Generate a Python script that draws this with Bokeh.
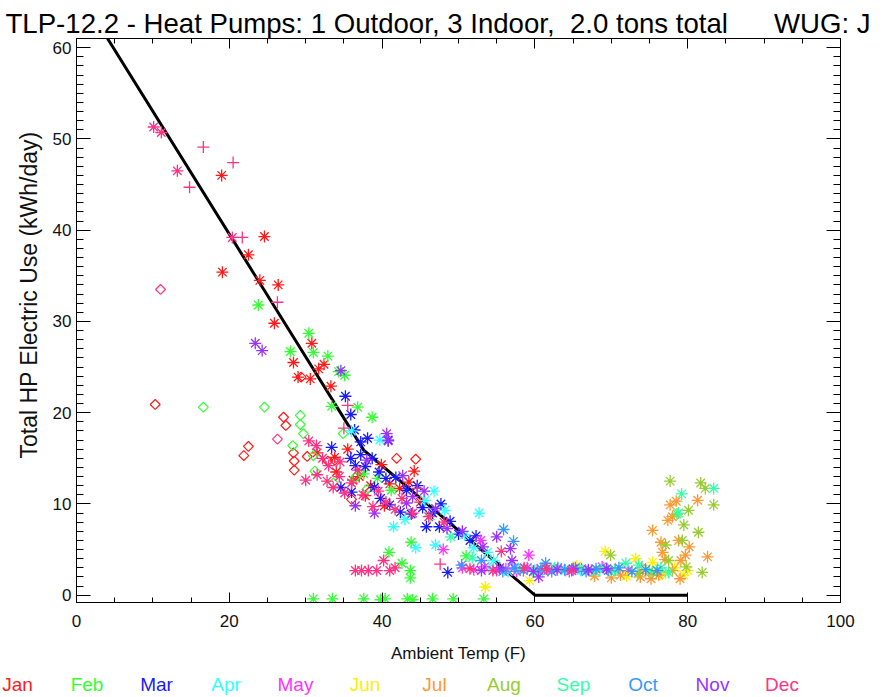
import numpy as np
from bokeh.plotting import figure
from bokeh.layouts import column
from bokeh.models import Range1d, LinearAxis, SingleIntervalTicker, Title, CustomJSTickFormatter, Div
from bokeh.embed import file_html
from bokeh.resources import INLINE

months = ["Jan", "Feb", "Mar", "Apr", "May", "Jun", "Jul", "Aug", "Sep", "Oct", "Nov", "Dec"]
month_colors = ["#ff1a1a", "#33ff33", "#1a1aff", "#33ffff", "#ff33ff", "#ffee00",
                "#ff9933", "#99cc33", "#33ffaa", "#3399ff", "#9933ff", "#ff3385"]

jan_star = [(19.0,46.0),(19.1,35.4),(24.6,39.3),(22.5,37.3),(24.0,34.5),(26.4,34.0),(25.9,29.8),(30.8,27.6),
            (28.4,25.5),(29.0,23.9),(30.6,23.7),(31.7,24.8),(32.4,25.3),(33.3,22.9),(33.8,15.1),(35.5,16.0),
            (31.5,15.6),(37.0,13.0),(38.5,12.0),(39.9,14.3),(41.0,12.2),(42.3,11.7),(43.5,12.4),(45.0,10.2),
            (36.2,12.6),(34.0,13.5),(40.3,9.8),(44.2,13.6),(37.8,10.9)]
jan_diamond = [(10.3,20.9),(22.5,16.3),(21.9,15.3),(27.1,19.5),(27.4,18.6),(28.4,15.6),(28.5,14.7),(28.5,13.7),
               (29.4,23.9),(32.9,14.7),(33.8,14.8),(41.9,15.0),(44.4,14.9),(30.2,15.2),(36.0,10.5)]

feb_star = [(23.8,31.8),(30.4,28.7),(28.0,26.7),(31.0,26.6),(32.9,26.2),(34.3,24.5),(35.1,24.1),(33.4,20.7),
            (36.8,20.6),(38.7,19.5),(37.6,13.3),(39.4,12.8),(41.2,11.5),(43.8,5.8),(40.9,4.7),(42.6,3.5),
            (43.7,2.7),(43.7,1.9),(51.0,4.3),(46.3,8.7),(31.0,-0.4),(33.5,-0.4),(37.6,-0.4),(39.8,-0.5),
            (40.4,-0.4),(43.3,-0.4),(44.0,-0.5),(46.6,-0.4),(49.3,-0.4),(53.3,-0.4)]
feb_diamond = [(16.6,20.6),(24.6,20.6),(29.3,19.7),(29.3,18.7),(29.7,17.7),(28.3,16.4),(31.0,15.3),(31.2,13.6),
               (34.9,17.7),(36.5,12.9),(33.6,12.3),(38.0,11.6)]

mar_star = [(35.2,21.8),(35.9,19.8),(36.4,18.1),(33.4,16.2),(35.9,15.0),(37.2,15.4),(36.5,14.2),(37.8,14.1),
            (38.7,15.0),(39.6,13.5),(37.2,16.8),(38.1,17.2),(40.5,12.8),(41.8,12.9),(43.2,11.5),(44.6,12.0),
            (39.8,10.6),(41.0,9.9),(42.4,9.1),(43.8,8.9),(45.3,9.6),(46.6,9.0),(47.5,7.5),(48.9,8.1),
            (50.0,6.7),(51.5,6.0),(52.3,6.5),(48.6,2.5),(47.7,10.0),(45.8,7.5),(34.6,11.8),(40.8,17.0),
            (39.0,11.8),(36.0,11.3)]

apr_star = [(39.7,17.0),(36.0,18.0),(41.5,7.5),(44.4,5.2),(46.8,11.4),(48.2,9.3),(50.8,6.6),(52.0,5.2),
            (53.8,4.7),(54.6,3.8),(57.8,2.9),(47.0,5.5),(43.0,8.3),(52.7,9.0),(54.0,3.0),(56.5,2.6),
            (59.5,2.9),(61.0,2.7),(63.4,2.9),(66.0,2.7),(68.5,2.8),(45.6,10.4)]

may_star = [(52.9,6.0),(59.2,4.4),(50.5,3.0),(52.0,2.8),(53.4,3.1),(55.0,2.7),(56.2,2.9),(57.6,2.6),
            (59.0,3.0),(60.3,2.8),(61.7,2.7),(63.0,3.0),(64.5,2.6),(66.1,2.9),(67.4,2.7),(68.8,3.1),
            (70.5,2.8),(72.2,2.7),(74.0,3.0),(48.0,5.0)]

jun_star = [(53.5,0.9),(59.3,1.6),(65.5,3.2),(70.0,2.5),(72.0,2.1),(73.2,4.0),(75.4,3.6),(77.1,2.4),
            (79.5,2.2),(74.2,2.9),(76.4,2.3),(78.3,3.0),(80.0,2.7),(69.2,4.8)]

jul_star = [(75.4,7.1),(77.4,8.2),(78.0,8.6),(78.8,6.0),(77.7,9.9),(78.5,10.3),(81.3,10.4),(76.7,4.7),
            (77.0,3.9),(78.0,2.7),(76.2,2.2),(75.2,1.8),(79.1,3.8),(79.7,4.4),(82.6,4.2),(71.2,2.2),
            (73.8,2.0),(70.0,1.9),(67.8,2.1),(79.0,1.8),(80.2,5.3),(76.5,5.8),(74.9,2.6)]

aug_star = [(77.7,12.5),(81.7,12.3),(82.3,11.7),(83.4,9.9),(79.5,7.7),(81.4,6.9),(79.3,6.0),(77.5,3.8),
            (75.4,2.5),(69.9,4.4),(81.9,2.5),(77.1,5.5),(78.6,8.9),(80.1,9.3),(73.5,2.4),(79.8,3.1)]

sep_star = [(79.2,11.1),(83.4,11.7),(78.8,9.0),(71.9,3.5),(73.6,3.3),(58.0,2.8),(60.0,2.6),(62.6,3.0),
            (64.0,2.7),(65.8,2.9),(67.9,2.6),(69.0,3.0),(70.4,2.7),(75.0,2.7),(76.5,3.0),(77.5,2.5),
            (49.0,6.4),(51.8,4.1)]

oct_star = [(57.2,5.9),(55.9,7.2),(55.8,2.6),(57.3,3.0),(58.5,2.7),(60.8,2.9),(61.4,3.5),(62.2,2.6),
            (63.9,2.8),(65.3,3.0),(66.7,2.6),(68.0,2.9),(69.6,2.7),(71.0,3.0),(72.7,2.6),(74.5,2.8),
            (76.0,2.7),(50.4,3.3),(53.0,3.8)]

nov_star = [(23.4,27.6),(24.3,26.8),(34.6,24.6),(40.6,17.7),(40.8,16.9),(38.0,14.8),(42.7,13.1),(44.0,10.8),
            (45.5,11.4),(43.2,10.1),(47.0,9.5),(48.5,7.3),(50.5,7.0),(53.2,5.3),(55.0,6.4),(56.8,5.1),
            (57.0,3.8),(36.5,9.8),(39.0,9.0),(53.0,2.7),(55.4,3.0),(59.8,2.6),(62.9,2.8),(65.0,2.9),
            (67.0,2.8),(69.4,2.9),(60.5,2.0)]

dec_star = [(10.1,51.3),(11.1,50.7),(13.2,46.5),(20.4,39.2),(30.4,16.9),(31.4,16.4),(30.0,12.6),(31.5,13.2),
            (32.8,12.5),(33.6,11.8),(34.4,13.0),(35.1,11.2),(36.0,12.3),(34.5,14.6),(33.0,14.2),(37.5,11.0),
            (38.8,9.7),(39.5,11.4),(40.5,10.2),(41.7,9.4),(42.6,10.6),(44.0,9.0),(46.1,8.6),(48.1,8.0),
            (36.8,13.7),(32.2,15.0),(36.5,2.7),(37.3,2.7),(38.2,2.7),(39.3,2.7),(40.2,3.8),(41.0,2.7),
            (41.7,3.0),(51.5,2.9),(54.5,2.7),(58.6,3.0),(61.5,2.9),(64.8,2.7),(55.6,4.8)]
dec_plus = [(16.6,49.1),(20.5,47.4),(14.8,44.7),(21.7,39.2),(26.3,32.1),(35.5,20.8),(35.0,18.3),(44.6,11.7),
            (47.6,3.4)]
dec_diamond = [(11.0,33.5),(26.3,17.1)]

fit_t = [4.06, 37.6, 60.0, 80.0]
fit_e = [61.0, 15.9, 0.0, 0.0]

NB = "\u00a0"
title_text = "TLP-12.2 - Heat Pumps: 1 Outdoor, 3 Indoor," + NB * 2 + "2.0 tons total" + NB * 6 + "WUG: J"
x_title = "Ambient Temp (F)"
y_title = "Total HP Electric Use (kWh/day)"

stars = [jan_star, feb_star, mar_star, apr_star, may_star, jun_star, jul_star, aug_star, sep_star,
         oct_star, nov_star, dec_star]
pluses = [[], [], [], [], [], [], [], [], [], [], [], dec_plus]
diamonds = [jan_diamond, feb_diamond, [], [], [], [], [], [], [], [], [], dec_diamond]

FONT = "Liberation Sans"
FW, FH = 764, 564
BL, BR, BT, BB = 76, 42, 38, 66
LEG_H = 29

p = figure(frame_width=FW, frame_height=FH, min_border_left=BL, min_border_right=BR,
           min_border_top=BT, min_border_bottom=BB, x_range=Range1d(0, 100), y_range=Range1d(-0.8, 61.0),
           output_backend="svg", toolbar_location=None, x_axis_location=None, y_axis_location=None)
p.grid.visible = False
p.outline_line_color = "black"
p.outline_line_width = 1
p.background_fill_color = "white"
p.border_fill_color = "white"

blank = CustomJSTickFormatter(code="return ''")

def make_axis(kind, show_labels):
    if kind == "x":
        ax = LinearAxis(ticker=SingleIntervalTicker(interval=20, num_minor_ticks=4))
        ax.major_tick_in, ax.minor_tick_in = 10, 5
    else:
        ax = LinearAxis(ticker=SingleIntervalTicker(interval=10, num_minor_ticks=10))
        ax.major_tick_in, ax.minor_tick_in = 14, 7
    ax.major_tick_out = 0
    ax.minor_tick_out = 0
    ax.axis_line_color = "black"
    ax.major_tick_line_color = "black"
    ax.minor_tick_line_color = "black"
    ax.major_label_text_font = FONT
    ax.major_label_text_color = "#111111"
    ax.axis_label_text_font = FONT
    ax.axis_label_text_font_style = "normal"
    ax.axis_label_text_color = "#111111"
    ax.major_label_text_font_size = "17px"
    if not show_labels:
        ax.formatter = blank
        ax.major_label_standoff = 0
        ax.major_label_text_font_size = "2px"
    return ax

xb = make_axis("x", True)
xb.axis_label = x_title
xb.axis_label_text_font_size = "17px"
xb.major_label_standoff = 12
xb.axis_label_standoff = 14
p.add_layout(xb, "below")

yl = make_axis("y", True)
yl.axis_label = NB * 8 + y_title
yl.axis_label_text_font_size = "23px"
yl.major_label_standoff = 5
yl.axis_label_standoff = 8
p.add_layout(yl, "left")

p.add_layout(make_axis("x", False), "above")
p.add_layout(make_axis("y", False), "right")

p.add_layout(Title(text=title_text, align="left", offset=-71, standoff=0,
                   text_font=FONT, text_font_size="27.6px", text_font_style="normal",
                   text_color="black"), "above")

# fit line
p.line(fit_t, fit_e, line_color="black", line_width=3)

for i, col in enumerate(month_colors):
    s = stars[i]
    if s:
        p.scatter([t for t, e in s], [e for t, e in s], marker="asterisk", size=12,
                  line_color=col, line_width=1.3)
    s = pluses[i]
    if s:
        p.scatter([t for t, e in s], [e for t, e in s], marker="cross", size=12,
                  line_color=col, line_width=1.3)
    s = diamonds[i]
    if s:
        p.scatter([t for t, e in s], [e for t, e in s], marker="square", angle=np.pi / 4, size=7,
                  line_color=col, fill_color=None, line_width=1.2)

# month colour key below the chart
W = BL + FW + BR
spans = []
for i, (m, col) in enumerate(zip(months, month_colors)):
    cx = 17.5 + i * 69.5
    spans.append(f'<span style="position:absolute;left:{cx - 35:.1f}px;top:7px;width:70px;'
                 f'text-align:center;color:{col};">{m}</span>')
html = (f'<div style="position:relative;width:{W}px;height:{LEG_H}px;font-family:\'{FONT}\';'
        f'font-size:19px;line-height:19px;background:white;">' + "".join(spans) + '</div>')
leg = Div(text=html, width=W, height=LEG_H, margin=0)

layout = column(p, leg, spacing=0)
open("out.html", "w").write(file_html(layout, INLINE))
